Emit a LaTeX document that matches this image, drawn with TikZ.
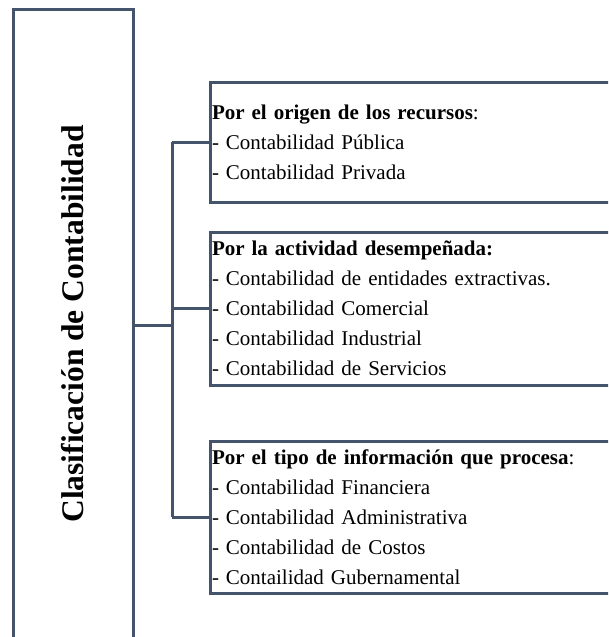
\documentclass[tikz,border=0pt]{standalone}
\usepackage{fontspec}
\setmainfont{Liberation Serif}
\usetikzlibrary{positioning}
\definecolor{azulgris}{RGB}{68,84,106}

\begin{document}
\begin{tikzpicture}[x=1pt, y=-1pt, line width=3pt, draw=azulgris,
    caja/.style={draw=azulgris, rectangle, outer sep=0pt, inner xsep=2pt, inner ysep=0pt,
                 text width=420pt, align=left, font=\fontsize{21}{30}\selectfont},
    titulo/.style={rotate=90, font=\fontsize{31.5}{36}\selectfont\bfseries}]
    \useasboundingbox (0,0) rectangle (608,637);
    \clip (0,0) rectangle (608,637);

    % Nodes {clasif, origen, actividad, tipo}
    \node [draw=azulgris, rectangle, outer sep=0pt, minimum width=120pt, minimum height=700pt,
           anchor=north west] (clasif) at (13,9) {};
    \node [titulo] (nombre) at (73,324) {Clasificación de Contabilidad};

    \node [caja, minimum height=120pt, anchor=north west] (origen) at (210,82)
        {\textbf{Por el origen de los recursos}:\\
         - Contabilidad Pública\\
         - Contabilidad Privada};
    \node [caja, minimum height=153pt] (actividad) [below=30pt of origen]
        {\textbf{Por la actividad desempeñada:}\\
         - Contabilidad de entidades extractivas.\\
         - Contabilidad Comercial\\
         - Contabilidad Industrial\\
         - Contabilidad de Servicios};
    \node [caja, minimum height=152pt] (tipo) [below=56pt of actividad]
        {\textbf{Por el tipo de información que procesa}:\\
         - Contabilidad Financiera\\
         - Contabilidad Administrativa\\
         - Contabilidad de Costos\\
         - Contailidad Gubernamental};

    % Paths
    \coordinate (nudo) at (172,325);
    \draw (clasif.east |- nudo) -- (nudo);
    \draw (nudo |- origen.west) -- (nudo |- tipo.west);
    \foreach \caja in {origen, actividad, tipo}
        \draw (nudo |- \caja.west) -- (\caja.west);
\end{tikzpicture}
\end{document}
